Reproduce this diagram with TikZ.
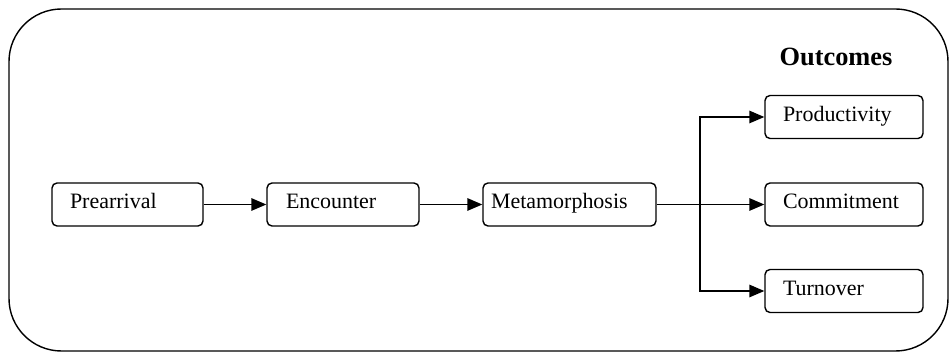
\documentclass[tikz,border=0pt]{standalone}
\usepackage{fontspec}
\setmainfont{Liberation Serif}
\usetikzlibrary{arrows.meta}
\tikzset{stage/.style={draw, rounded corners=0.1cm, minimum height=0.86cm,
    align=left, inner ysep=0pt, text height=0.3cm, text depth=0.12cm,
    line width=0.8pt, font=\fontsize{12.5}{15}\selectfont},
  flow/.style={-{Triangle[length=0.3cm, width=0.25cm]}, line width=0.8pt}}

\begin{document}
\begin{tikzpicture}[x=0.02cm, y=-0.02cm]
\useasboundingbox (0,0) rectangle (950,354);
\draw[line width=0.8pt, rounded corners=1.05cm] (9,9) rectangle (948,351);

\node (title) at (836,57) {\fontsize{15}{18}\selectfont\bfseries Outcomes};

\node[stage, inner xsep=0.36cm, text width=2.30cm] (pre) at (127.5,204.5) {Prearrival};
\node[stage, inner xsep=0.38cm, text width=2.28cm] (enc) at (343,204.5) {Encounter};
\node[stage, inner xsep=0.16cm, text width=3.14cm] (meta) at (569.5,204.5) {Metamorphosis};

\node[stage, inner xsep=0.36cm, text width=2.44cm] (prod) at (844,117) {Productivity};
\node[stage, inner xsep=0.36cm, text width=2.44cm] (com) at (844,204.5) {Commitment};
\node[stage, inner xsep=0.36cm, text width=2.44cm] (turn) at (844,291) {Turnover};

\draw[flow] (pre) -- (enc);
\draw[flow] (enc) -- (meta);
\draw[flow] (meta) -- (com);

\coordinate (split) at (700,204.5);
\draw[flow] (split) |- (prod);
\draw[flow] (split) |- (turn);
\end{tikzpicture}
\end{document}
